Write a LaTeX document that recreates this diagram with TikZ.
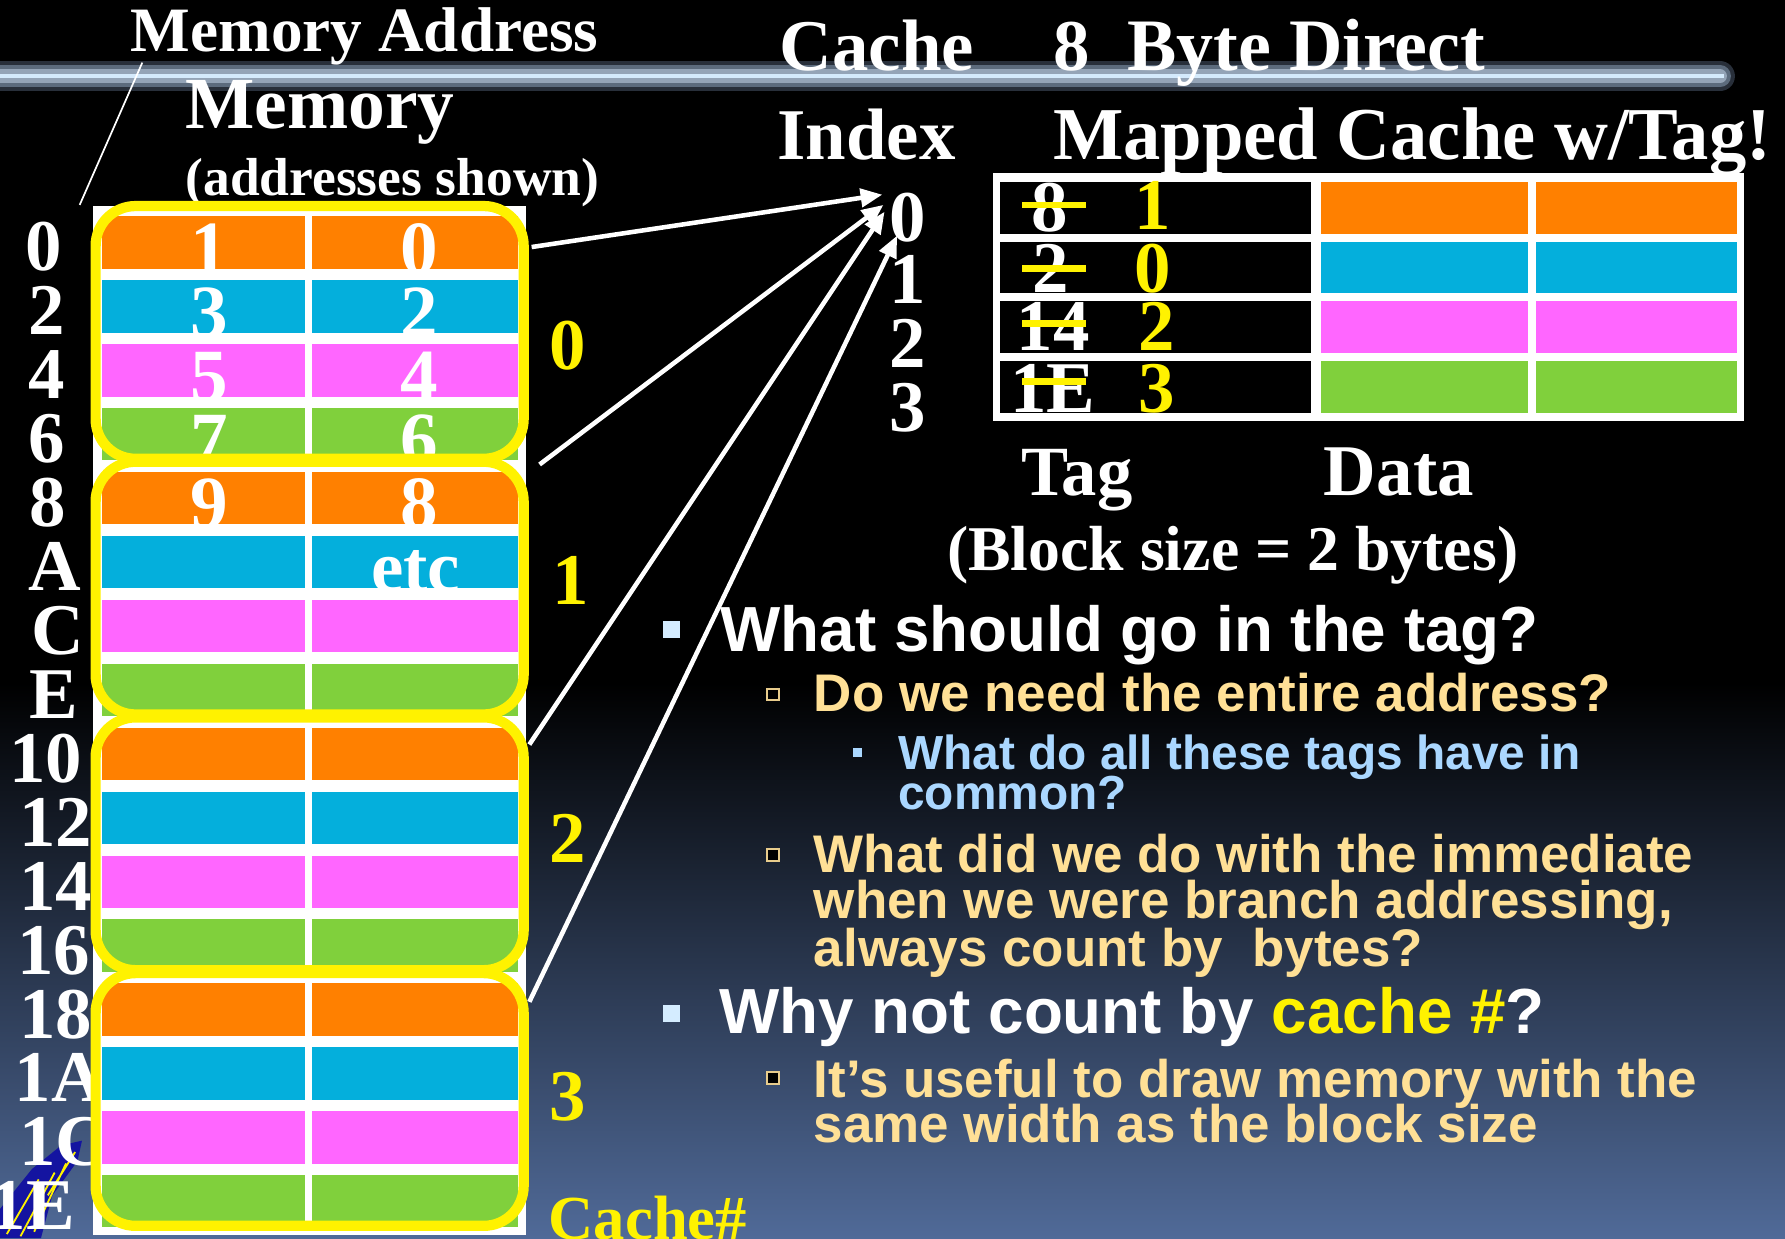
\documentclass[tikz,border=0pt]{standalone}
\usepackage{fontspec}
\setmainfont{Liberation Serif}
\newfontfamily\sansf{Liberation Sans}
\usetikzlibrary{arrows.meta}
\definecolor{corange}{RGB}{255,128,0}
\definecolor{ccyan}{RGB}{4,175,220}
\definecolor{cmag}{RGB}{255,102,255}
\definecolor{cgreen}{RGB}{128,208,60}
\definecolor{gold}{RGB}{255,224,150}
\definecolor{bulgold}{RGB}{232,204,140}
\definecolor{lblue}{RGB}{170,215,255}
\definecolor{bul}{RGB}{212,236,255}
\definecolor{bgbot}{RGB}{80,106,152}
\definecolor{glowA}{RGB}{40,47,58}
\definecolor{glowB}{RGB}{92,107,125}
\definecolor{glowC}{RGB}{148,164,183}
\definecolor{glowcore}{RGB}{212,234,252}
\definecolor{logoblue}{RGB}{20,20,160}
\newcommand\myfs[1]{\fontsize{#1}{#1}\selectfont}
\begin{document}
\begin{tikzpicture}[x=1pt,y=-1pt,
  ser/.style={anchor=base west,inner sep=0pt,outer sep=0pt,text=white,font=\bfseries\myfs{#1}},
  sf/.style={anchor=base west,inner sep=0pt,outer sep=0pt,font=\sansf\bfseries\myfs{#1}},
  yblock/.style={draw=yellow,line width=9pt,rounded corners=35pt,minimum width=376pt,minimum height=222pt,inner sep=0pt,outer sep=0pt},
  bulA/.style={fill=bul,minimum size=15pt,inner sep=0pt,outer sep=0pt},
  bulB/.style={draw=bulgold,line width=1.6pt,fill=black,minimum size=10pt,inner sep=0pt,outer sep=0pt},
  bulC/.style={fill=lblue,minimum size=8pt,inner sep=0pt,outer sep=0pt},
  arr/.style={white,line width=4pt,-{Triangle[length=19pt,width=16pt]}}
]
\useasboundingbox (0,0) rectangle (1568,1087.5);
% background
\fill[black] (0,0) rectangle (1568,1087.5);
\shade[top color=black,bottom color=bgbot] (0,600) rectangle (1568,1087.5);
% title glow line
\coordinate (gl) at (-40,67);
\coordinate (gr) at (1511,67);
\coordinate (gc) at (1514,67);
\draw[line width=26pt,glowA,line cap=round] (gl) -- (gr);
\draw[line width=19pt,glowB,line cap=round] (gl) -- (gr);
\draw[line width=12pt,glowC,line cap=round] (gl) -- (gr);
\draw[line width=3.5pt,glowcore] (gl) -- (gc);
% titles
\node[ser=55.5] (tMA) at (115,45) {Memory Address};
\node[ser=64.5] (tMem) at (163,113) {Memory};
\node[ser=47] (tAddr) at (163,172) {(addresses shown)};
\node[ser=64] (tCache) at (685,62) {Cache};
\node[ser=64] (t8) at (925,62) {8};
\node[ser=65] (tBD) at (990,62) {Byte Direct};
\node[ser=64] (tIdx) at (683,140) {Index};
\node[ser=65.5] (tMap) at (925,140) {Mapped Cache w/Tag!};
\coordinate (ml1) at (125,55);
\coordinate (ml2) at (70,180);
\draw[white,line width=1.5pt] (ml1) -- (ml2);
% index digits
\node[ser=64,anchor=base] (i0) at (797,212) {0};
\node[ser=64,anchor=base] (i1) at (797,267) {1};
\node[ser=64,anchor=base] (i2) at (797,323) {2};
\node[ser=64,anchor=base] (i3) at (797,379) {3};
% cache table
\fill[white] (872,152) rectangle (1532,370);
\foreach \r/\c in {0/corange,1/ccyan,2/cmag,3/cgreen}{
  \pgfmathsetmacro\ty{160+52.3*\r}
  \fill[black] (878,\ty) rectangle (1152,\ty+45.5);
  \fill[\c] (1160,\ty) rectangle (1342,\ty+45.5);
  \fill[\c] (1349,\ty) rectangle (1526,\ty+45.5);
}
\node[ser=64,anchor=base] (tg0) at (922,203) {8};
\node[ser=64,anchor=base] (tg1) at (923,257) {2};
\node[ser=64,anchor=base] (tg2) at (925,308) {14};
\node[ser=64,anchor=base] (tg3) at (925,362) {1E};
\fill[yellow] (898,177) rectangle (954,183);
\fill[yellow] (898,233) rectangle (954,239);
\fill[yellow] (898,281) rectangle (954,287);
\fill[yellow] (898,332) rectangle (954,338);
\node[ser=64,anchor=base,text=yellow] (ty0) at (1013,202) {1};
\node[ser=64,anchor=base,text=yellow] (ty1) at (1013,257) {0};
\node[ser=64,anchor=base,text=yellow] (ty2) at (1016,308) {2};
\node[ser=64,anchor=base,text=yellow] (ty3) at (1016,362) {3};
\node[ser=62] (tTag) at (897,435) {Tag};
\node[ser=64] (tData) at (1163,435) {Data};
\node[ser=56] (tBlk) at (832,501) {(Block size = 2 bytes)};
% logo (behind the last labels)
\fill[logoblue] (0,1087.5) -- (0,1062) -- (28,1027) -- (54,1006) -- (72,1002) -- (68,1020) -- (46,1050) -- (36,1087.5) -- cycle;
\draw[yellow,line width=1.6pt] (6,1084) -- (34,1036) (18,1086) -- (48,1030) (30,1082) -- (58,1022) (42,1050) -- (66,1012);
% address labels
\foreach \t/\x [count=\i from 0] in {0/22,2/25,4/25,6/25,8/26,A/25,C/28,E/26,10/8,12/17,14/17,16/15,18/17,1A/13,1C/17,1E/-9}{
  \pgfmathsetmacro\by{238+56.15*\i}
  \node[ser=64] (ad\i) at (\x,\by) {\t};
}
% memory
\fill[white] (82,181) rectangle (462,1085);
\foreach \r in {0,...,15}{
  \pgfmathtruncatemacro\cc{mod(\r,4)}
  \pgfmathsetmacro\ty{190+56.15*\r}
  \ifcase\cc \def\rc{corange}\or \def\rc{ccyan}\or \def\rc{cmag}\or \def\rc{cgreen}\fi
  \fill[\rc] (90,\ty) rectangle (268,\ty+46);
  \fill[\rc] (274,\ty) rectangle (455,\ty+46);
}
\foreach \r/\a/\b in {0/1/0,1/3/2,2/5/4,3/7/6,4/9/8}{
  \pgfmathsetmacro\by{190+56.15*\r+50}
  \node[ser=66,anchor=base] (cl\r) at (184,\by) {\a};
  \node[ser=66,anchor=base] (cr\r) at (368,\by) {\b};
}
\node[ser=64,anchor=base] (cetc) at (365,520) {etc};
\node[yblock] (blk0) at (272,292) {};
\node[yblock] (blk1) at (272,516.6) {};
\node[yblock] (blk2) at (272,741.2) {};
\node[yblock] (blk3) at (272,965.8) {};
% cache numbers
\node[ser=64,text=yellow] (cn0) at (483,325) {0};
\node[ser=64,text=yellow] (cn1) at (485,531) {1};
\node[ser=64,text=yellow] (cn2) at (483,758) {2};
\node[ser=64,text=yellow] (cn3) at (483,984) {3};
\node[ser=55,text=yellow] (tCn) at (482,1089) {Cache\#};
% arrows
\coordinate (s0) at (467,217);
\coordinate (e0) at (775,171);
\coordinate (s1) at (474,408);
\coordinate (e1) at (776,180);
\coordinate (s2) at (465,654);
\coordinate (e2) at (777,186);
\coordinate (s3) at (465,880);
\coordinate (e3) at (788,207);
\draw[arr] (s0) -- (e0);
\draw[arr] (s1) -- (e1);
\draw[arr] (s2) -- (e2);
\draw[arr] (s3) -- (e3);
% bullets text
\node[bulA] (b1) at (590,553) {};
\node[sf=56,text=white] (q1) at (633,572) {What should go in the tag?};
\node[bulB] (b2) at (679,610) {};
\node[sf=46.5,text=gold] (q2) at (715,625) {Do we need the entire address?};
\node[bulC] (b3) at (753,661) {};
\node[sf=42,text=lblue] (q3a) at (789,676) {What do all these tags have in};
\node[sf=42,text=lblue] (q3b) at (789,711) {common?};
\node[bulB] (b4) at (679,751) {};
\node[sf=46.5,text=gold] (q4a) at (715,766) {What did we do with the immediate};
\node[sf=46.5,text=gold] (q4b) at (715,807) {when we were branch addressing,};
\node[sf=46.5,text=gold] (q4c) at (715,849) {always count by\ \ bytes?};
\node[bulA] (b5) at (590,890) {};
\node[sf=56,text=white] (q5) at (632,908) {Why not count by \textcolor{yellow}{cache \#}?};
\node[bulB] (b6) at (679,947) {};
\node[sf=46.5,text=gold] (q6a) at (715,964) {It’s useful to draw memory with the};
\node[sf=46.5,text=gold] (q6b) at (715,1004) {same width as the block size};
\end{tikzpicture}
\end{document}
